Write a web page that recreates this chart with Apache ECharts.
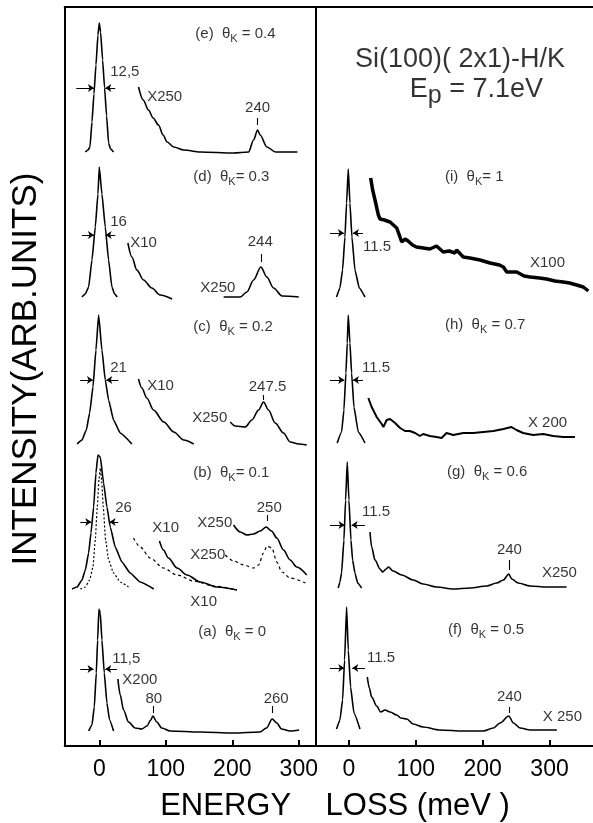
<!DOCTYPE html>
<html><head><meta charset="utf-8">
<script src="https://cdn.jsdelivr.net/npm/echarts@6/dist/echarts.min.js"></script>
<style>html,body{margin:0;padding:0;background:#fff}#c{width:593px;height:823px}</style>
</head><body><div id="c"></div>
<script>
// ---- axis ticks (meV) ----
const xTicks = [0, 100, 200, 300];
const yLabel = 'INTENSITY(ARB.UNITS)';
const xLabel = 'ENERGY    LOSS (meV )';

// ---- baselines of the stacked spectra (arb. units) ----
const baseE = 594, baseD = 449, baseC = 302, baseB = 157, baseA = 15;
const baseI = 449, baseH = 303, baseG = 158, baseF = 17;

// ---- left panel: (e) θK = 0.4 ----
const eElastic = [[-21,0],[-17,2],[-14,5],[-11,30],[-8,58],[-5,87],[-2,117],[0,129],[2,120],[5,92],[8,64],[11,36],[14,9],[17,3],[21.5,0]];
const eX250 = [[59,65],[66,52],[74,42],[81,34],[89,27],[96,17],[102,10],[112,5],[127,2],[152,0],[202,-1],[224.5,0],[232,12],[238,22],[242,17],[252,5],[265,0],[298,0]];
const eFwhm = [-34.6, -8, 24, 9, 64];
const eTicks = [[238, 27, 34]];
const eText = [[144.4,118,'(e)  θ{s|K} = 0.4','r'],[16.5,80,'12,5','r'],[72,55,'X250','r'],[238,44,'240','c']];

// ---- (d) θK = 0.3 ----
const dElastic = [[-26,0],[-21,3],[-16,10],[-11,37],[-6,70],[-2,103],[0,130],[4,103],[9,70],[14,37],[19,10],[23,3],[27,0]];
const dX10 = [[43,54],[49,40],[56.5,27],[66.5,17],[79,9],[91.5,2],[109.5,-2]];
const dX250 = [[187,0],[212,0],[222,5],[232,17],[243,30],[252,20],[262,9],[275,1],[300,0]];
const dFwhm = [-26, -8, 24, 9.5, 62];
const dTicks = [[243, 35, 43]];
const dText = [[141.4,120,'(d)  θ{s|K}= 0.3','r'],[16.5,75,'16','r'],[46.6,54,'X10','r'],[151.9,9,'X250','r'],[242,55,'244','c']];

// ---- (c) θK = 0.2 ----
const cElastic = [[-33.5,0],[-26,4],[-19.5,14],[-14.5,31],[-9.5,57],[-5,94],[-1,129],[4,94],[9,64],[14,44],[21.5,24],[31.5,11],[49,0]];
const cX10 = [[59,65],[64,56],[71.5,46],[81.5,34],[97,22],[112,12],[127,4],[142,0]];
const cX250 = [[197,22],[204.5,18],[219.5,17],[229.5,24],[239.5,34],[247,42],[254.5,34],[264.5,21],[277,11],[287,2],[300,0],[312,-1]];
const cFwhm = [-28.6, -9.5, 28.6, 10.5, 64];
const cTicks = [[247, 44, 49]];
const cText = [[141.4,117,'(c)  θ{s|K} = 0.2','r'],[16.5,76,'21','r'],[72,58,'X10','r'],[192.5,26,'X250','l'],[253,57,'247.5','c']];

// ---- (b) θK = 0.1 (solid and dotted/dashed) ----
const bElastic = [[-41,0],[-33.5,2],[-26,9],[-21,19],[-16,36],[-12.5,56],[-8.5,82],[-5,116],[-2,134],[1.5,132],[6.5,106],[11.5,82],[16.5,62],[24,42],[34,27],[46.5,16],[61.5,7],[82,0]];
const bElasticDot = [[-28.5,0],[-21,2],[-14.5,9],[-9.5,22],[-6,49],[-3,82],[-0.5,109],[1.5,121],[3.5,109],[6,82],[9.5,49],[14,29],[21.5,16],[31.5,7],[44,2]];
const bX10 = [[90.5,48],[96.5,39],[104,31],[117,21],[132,14],[152,7],[177,2],[207,-1]];
const bX10Dash = [[51.5,51],[61.5,42],[76.5,31],[96.5,21],[117,14],[142,8],[172,3],[207,-1]];
const bX250 = [[202,64],[212,57],[222,54],[232,55],[242,58],[251,62],[259,58],[267,51],[277,39],[287,29],[297,22],[312,14]];
const bX250Dash = [[189.5,34],[202,28],[217,24],[232,21],[239.5,24],[247,36],[252,43],[259.5,41],[267,27],[274.5,17],[287,11],[310,6]];
const bFwhm = [-28.6, -12, 28.6, 15.5, 67];
const bTicks = [[252.6, 68, 74]];
const bText = [[141.4,116,'(b)  θ{s|K}= 0.1','r'],[24,81,'26','r'],[79.7,61,'X10','r'],[157,-13,'X10','c'],[200,66,'X250','l'],[189.5,34,'X250','l'],[255.6,81,'250','c']];

// ---- (a) θK = 0 ----
const aElastic = [[-16,0],[-11,6],[-7.5,24],[-4.5,58],[-2.5,91],[-0.5,122],[1.5,118],[4,91],[7.5,58],[11.5,28],[15.5,11],[21.5,0]];
const aX200 = [[28,52],[31.5,36],[36.5,21],[44,9],[54,3],[64,2],[71.5,5],[77.5,11],[80.5,15],[86.5,9],[94,3],[106.5,0],[151.5,-1],[201.5,-2],[241.5,-1],[251.5,3],[260,12],[267,8],[274,2],[287,0],[300.5,1]];
const aFwhm = [-28.6, -8.6, 26.6, 9, 62];
const aTicks = [[81.2, 18, 25], [260.2, 18, 25]];
const aText = [[148.9,99,'(a)  θ{s|K} = 0','r'],[19.5,72,'11,5','r'],[34.6,51,'X200','r'],[82,32,'80','c'],[266,32,'260','c']];

// ---- right panel: (i) θK = 1 ----
const iElastic = [[-18.5,0],[-13.5,9],[-9.5,27],[-6,60],[-3.5,94],[-1,128],[1.5,94],[4.5,60],[9,27],[15.5,9],[24,0]];
const iX100 = [[32.5,119],[35.5,107],[39,97],[44,82],[46.5,78],[53,77],[61.5,75],[71.5,69],[79,55],[84,58],[88.5,56],[95,52],[101,50],[111,49],[121,48],[131,51],[141,45],[150,46],[158.5,44],[161,47],[171,40],[181,39],[196,37],[211,34],[225,32],[231,30],[236,25],[251,25],[262,21],[271,20],[285,19],[295.5,18],[308,16],[320.5,15],[330,14],[340.5,12],[350.5,10],[358,6]];
const iFwhm = [-28.4, -7.5, 21, 6, 64];
const iTicks = [];
const iText = [[143.6,120,'(i)  θ{s|K}= 1','r'],[21,50,'11.5','r'],[270.7,34,'X100','r']];

// ---- (h) θK = 0.7 ----
const hElastic = [[-17.5,0],[-11,11],[-7.5,33],[-4.5,70],[-2.5,100],[-1,128],[1.5,100],[4,70],[7.5,36],[14,11],[24,0]];
const hX200 = [[29,45],[34,36],[41.5,26],[49,19],[51.5,16],[56.5,23],[61.5,24],[69,20],[76.5,15],[84,12],[91,12],[99,10],[106,7],[111,9],[121,7],[131,6],[138.5,5],[146,10],[156,8],[171,10],[186,10],[201,11],[216,12],[231,14],[243,16],[250.5,13],[260.5,10],[275.5,8],[290.5,9],[305.5,7],[320.5,6],[338,6]];
const hFwhm = [-28.4, -7, 21, 6, 63];
const hTicks = [];
const hText = [[143.6,118,'(h)  θ{s|K} = 0.7','r'],[19.4,75,'11.5','r'],[267.7,20,'X 200','r']];

// ---- (g) θK = 0.6 ----
const gElastic = [[-16,0],[-13.5,6],[-11,15],[-7.5,48],[-5,88],[-2.5,126],[0,88],[3,48],[5.5,28],[9,15],[13,5],[19,0]];
const gX250 = [[31.5,56],[34,41],[39,28],[46.5,19],[50.5,16],[55.5,19],[59,21],[66,17],[79,13],[96,8],[111,4],[131,1],[156,-1],[181,0],[206,2],[221,5],[231,8],[239,14],[243.5,9],[253,5],[271,2],[296,1],[325.5,1]];
const gFwhm = [-28.4, -6.5, 24, 4, 63];
const gTicks = [[240, 18, 28]];
const gText = [[146.6,116,'(g)  θ{s|K} = 0.6','r'],[19.4,76,'11.5','r'],[240,38,'240','c'],[288.6,15,'X250','r']];

// ---- (f) θK = 0.5 ----
const fElastic = [[-18.5,0],[-13.5,9],[-9.5,29],[-6.5,69],[-3.5,122],[-1,79],[2.5,42],[7.5,16],[16.5,0]];
const fX250 = [[27.5,52],[30.5,41],[34,32],[41.5,23],[47.5,17],[54,19],[61.5,17],[71.5,14],[77.5,11],[86.5,10],[96,5],[111,2],[136,-1],[171,-2],[201,-2],[216,1],[226,6],[239,13],[246,6],[256,1],[271,-1],[311,-1]];
const fFwhm = [-28.4, -7, 24, 5, 61];
const fTicks = [[240, 16, 22]];
const fText = [[148,99,'(f)  θ{s|K} = 0.5','r'],[27,71,'11.5','r'],[240,32,'240','c'],[290,12,'X 250','r']];

// ---- header text in the right panel ----
const titleText = [[9, 686, 'Si(100)( 2x1)-H/K'], [91, 656, 'E{p|p} = 7.1eV']];

// ================= build =================
const FONT = '"Liberation Sans", Arial, sans-serif';
const BLACK = '#000';
const series = [];

function curve(pts, off, gi, opts) {
  opts = opts || {};
  series.push({
    type: 'line', xAxisIndex: gi, yAxisIndex: gi,
    data: pts.map(p => [p[0], p[1] + off]),
    showSymbol: false, symbol: 'none', silent: true, animation: false,
    smooth: opts.smooth === undefined ? 0.3 : opts.smooth, smoothMonotone: 'x',
    lineStyle: { color: BLACK, width: opts.width || 1.6, type: opts.type || 'solid' },
    z: 3
  });
}
function fwhm(f, off, gi) {
  series.push({
    type: 'lines', coordinateSystem: 'cartesian2d', xAxisIndex: gi, yAxisIndex: gi,
    symbol: ['none', 'arrow'], symbolSize: 6, silent: true, animation: false,
    lineStyle: { color: BLACK, width: 1.1, opacity: 1 },
    data: [{ coords: [[f[0], f[4] + off], [f[1], f[4] + off]] }, { coords: [[f[2], f[4] + off], [f[3], f[4] + off]] }]
  });
}
function ticks(t, off, gi) {
  if (!t.length) return;
  series.push({
    type: 'lines', coordinateSystem: 'cartesian2d', xAxisIndex: gi, yAxisIndex: gi,
    symbol: ['none', 'none'], silent: true, animation: false,
    lineStyle: { color: BLACK, width: 1.1, opacity: 1 },
    data: t.map(k => ({ coords: [[k[0], k[1] + off], [k[0], k[2] + off]] }))
  });
}
const POS = { r: 'right', l: 'left', c: 'inside' };
function texts(list, off, gi, size) {
  series.push({
    type: 'scatter', xAxisIndex: gi, yAxisIndex: gi, symbolSize: 0, silent: true, animation: false,
    data: list.map(a => ({ value: [a[0], a[1] + off], txt: a[2], label: { position: POS[a[3] || 'r'] } })),
    label: {
      show: true, distance: 0, color: BLACK, fontFamily: FONT, fontSize: size || 15, lineHeight: 18,
      formatter: p => p.data.txt,
      rich: {
        s: { fontSize: 11, fontFamily: FONT, color: BLACK, lineHeight: 18, padding: [9, 0, 0, 0] },
        p: { fontSize: 25, fontFamily: FONT, color: BLACK, lineHeight: 30, padding: [12, 0, 0, 0] }
      }
    },
    z: 5
  });
}

// left panel (grid 0)
curve(eElastic, baseE, 0, {smooth: 0.15}); curve(eX250, baseE, 0); fwhm(eFwhm, baseE, 0); ticks(eTicks, baseE, 0); texts(eText, baseE, 0);
curve(dElastic, baseD, 0, {smooth: 0.15}); curve(dX10, baseD, 0); curve(dX250, baseD, 0); fwhm(dFwhm, baseD, 0); ticks(dTicks, baseD, 0); texts(dText, baseD, 0);
curve(cElastic, baseC, 0, {smooth: 0.15}); curve(cX10, baseC, 0); curve(cX250, baseC, 0); fwhm(cFwhm, baseC, 0); ticks(cTicks, baseC, 0); texts(cText, baseC, 0);
curve(bElastic, baseB, 0, {smooth: 0.15}); curve(bElasticDot, baseB, 0, {smooth: 0.15, type: [2, 2], width: 1.2});
curve(bX10, baseB, 0); curve(bX10Dash, baseB, 0, {type: [3, 3], width: 1.2});
curve(bX250, baseB, 0); curve(bX250Dash, baseB, 0, {type: [3, 3], width: 1.2});
fwhm(bFwhm, baseB, 0); ticks(bTicks, baseB, 0); texts(bText, baseB, 0);
curve(aElastic, baseA, 0, {smooth: 0.15}); curve(aX200, baseA, 0); fwhm(aFwhm, baseA, 0); ticks(aTicks, baseA, 0); texts(aText, baseA, 0);

// right panel (grid 1)
curve(iElastic, baseI, 1, {smooth: 0.15}); curve(iX100, baseI, 1, {smooth: false, width: 3.5}); fwhm(iFwhm, baseI, 1); texts(iText, baseI, 1);
curve(hElastic, baseH, 1, {smooth: 0.15}); curve(hX200, baseH, 1, {smooth: false, width: 2}); fwhm(hFwhm, baseH, 1); texts(hText, baseH, 1);
curve(gElastic, baseG, 1, {smooth: 0.15}); curve(gX250, baseG, 1); fwhm(gFwhm, baseG, 1); ticks(gTicks, baseG, 1); texts(gText, baseG, 1);
curve(fElastic, baseF, 1, {smooth: 0.15}); curve(fX250, baseF, 1); fwhm(fFwhm, baseF, 1); ticks(fTicks, baseF, 1); texts(fText, baseF, 1);
texts(titleText.map(t => [t[0], t[1], t[2], 'r']), 0, 1, 27);

const lineStyle = { color: BLACK, width: 2 };
function xAx(gi, min, max, pos) {
  const bottom = pos === 'bottom';
  return {
    gridIndex: gi, type: 'value', min: min, max: max, position: pos,
    axisLine: { show: true, onZero: false, lineStyle: lineStyle },
    axisTick: { show: bottom, inside: true, length: 6, lineStyle: lineStyle, customValues: xTicks },
    axisLabel: { show: bottom, customValues: xTicks, color: BLACK, fontFamily: FONT, fontSize: 23, margin: 12 },
    splitLine: { show: false }
  };
}
function yAx(gi) {
  return {
    gridIndex: gi, type: 'value', min: 0, max: 739,
    axisLine: { show: true, onZero: false, lineStyle: lineStyle },
    axisTick: { show: false }, axisLabel: { show: false }, splitLine: { show: false }
  };
}

const chart = echarts.init(document.getElementById('c'), null, { renderer: 'canvas' });
chart.setOption({
  backgroundColor: '#fff',
  animation: false,
  grid: [
    { left: 64.7, width: 250.7, top: 7, height: 739 },
    { left: 315.5, width: 277.5, top: 7, height: 739 }
  ],
  xAxis: [xAx(0, -52, 325, 'bottom'), xAx(1, -50, 365, 'bottom'), xAx(0, -52, 325, 'top'), xAx(1, -50, 365, 'top')],
  yAxis: [yAx(0), yAx(1)],
  series: series,
  graphic: [
    { type: 'text', x: 26, y: 369, rotation: Math.PI / 2,
      style: { text: yLabel, fill: BLACK, fontFamily: FONT, fontSize: 35, align: 'center', verticalAlign: 'middle' } },
    { type: 'text', x: 335, y: 806,
      style: { text: xLabel, fill: BLACK, fontFamily: FONT, fontSize: 31, align: 'center', verticalAlign: 'middle' } }
  ]
});
</script>
</body></html>
